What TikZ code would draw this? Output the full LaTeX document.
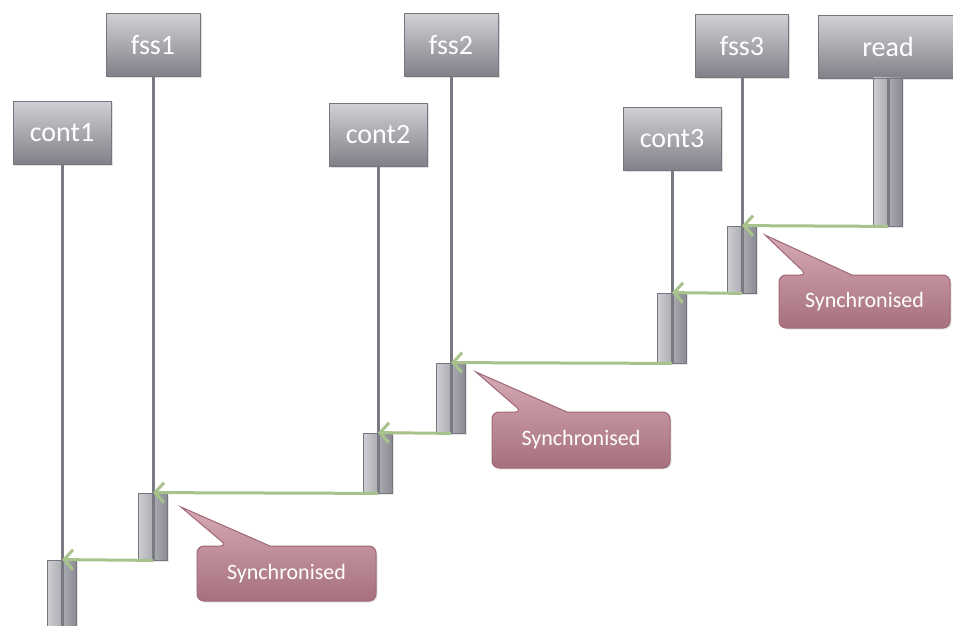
\documentclass[tikz,border=0pt]{standalone}
\usepackage{fontspec}
\setmainfont{Carlito}
\usetikzlibrary{arrows.meta}
\usetikzlibrary{shadows}
\definecolor{headtop}{RGB}{208,208,213}
\definecolor{headbot}{RGB}{128,128,136}
\definecolor{headline}{RGB}{118,118,126}
\definecolor{lifegray}{RGB}{122,122,130}
\definecolor{barlight}{RGB}{205,205,211}
\definecolor{bardark}{RGB}{138,138,146}
\definecolor{msggreen}{RGB}{168,194,140}
\definecolor{synctop}{RGB}{214,170,180}
\definecolor{syncbot}{RGB}{166,112,126}
\definecolor{syncline}{RGB}{160,104,118}

\begin{document}
\begin{tikzpicture}[x=1pt,y=-1pt,
	head/.style={draw=headline, line width=1pt, top color=headtop, bottom color=headbot, text=white, font=\fontsize{28}{30}\selectfont, inner sep=0pt, minimum height=63pt, drop shadow={shadow xshift=1.5pt, shadow yshift=-1.5pt, opacity=0.25}},
	actbar/.style={draw=headline, line width=0.8pt, left color=barlight, right color=bardark, minimum width=29pt, inner sep=0pt, drop shadow={shadow xshift=1.5pt, shadow yshift=-1.5pt, opacity=0.2}},
	life/.style={draw=lifegray, line width=3pt},
	msg/.style={draw=msggreen, line width=3pt, -{Straight Barb[length=9pt,width=20pt]}},
	sync/.style={draw=syncline, line width=1pt, top color=synctop, bottom color=syncbot, drop shadow={shadow xshift=1.5pt, shadow yshift=-1.5pt, opacity=0.2}},
	synctext/.style={text=white, font=\fontsize{22}{24}\selectfont}]
\useasboundingbox (0,0) rectangle (953,626);
\node[head, minimum width=98pt] (cont1) at (62,132.5) {cont1};
\node[head, minimum width=94pt] (fss1) at (153,45) {fss1};
\node[head, minimum width=98pt] (cont2) at (378,134.5) {cont2};
\node[head, minimum width=94pt] (fss2) at (451,45) {fss2};
\node[head, minimum width=98pt] (cont3) at (672,138.5) {cont3};
\node[head, minimum width=93pt] (fss3) at (742,46) {fss3};
\node[head, minimum width=140pt] (read) at (888,47) {read};
\foreach \name/\x/\top/\bot in {read/888/78/226, fss3/742/226/293, cont3/672/293/363, fss2/451/363/433, cont2/378/433/493, fss1/153/493/560, cont1/62/560/640} {
	\node[actbar, minimum height=\bot-\top] (\name-bar) at (\x,{(\top+\bot)/2}) {};
	\draw[life] (\name) -- (\name-bar.south);
	};
\foreach \from/\to in {read/fss3, fss3/cont3, cont3/fss2, fss2/cont2, cont2/fss1, fss1/cont1} {
	\draw[msg] (\from-bar.south) -- (\to-bar.north);
	};
\foreach \n/\xa/\ya/\xb/\yb/\tx/\ty/\bl/\br in {1/197/546/376/601/181/507/227/270, 2/492/412/670/468/476/372/522/567, 3/779/275/950/328/765/235/807/852} {
	\coordinate (tip\n) at (\tx,\ty);
	\path[sync] ({(\xa+\xb)/2},\yb) [rounded corners=7pt] -- (\xa,\yb) -- (\xa,\ya) -- (\bl,\ya) [sharp corners] -- (tip\n) -- (\br,\ya) [rounded corners=7pt] -- (\xb,\ya) -- (\xb,\yb) -- cycle;
	\node[synctext] (sync\n) at ({(\xa+\xb)/2},{(\ya+\yb)/2}) {Synchronised};
	};
\end{tikzpicture}
\end{document}
